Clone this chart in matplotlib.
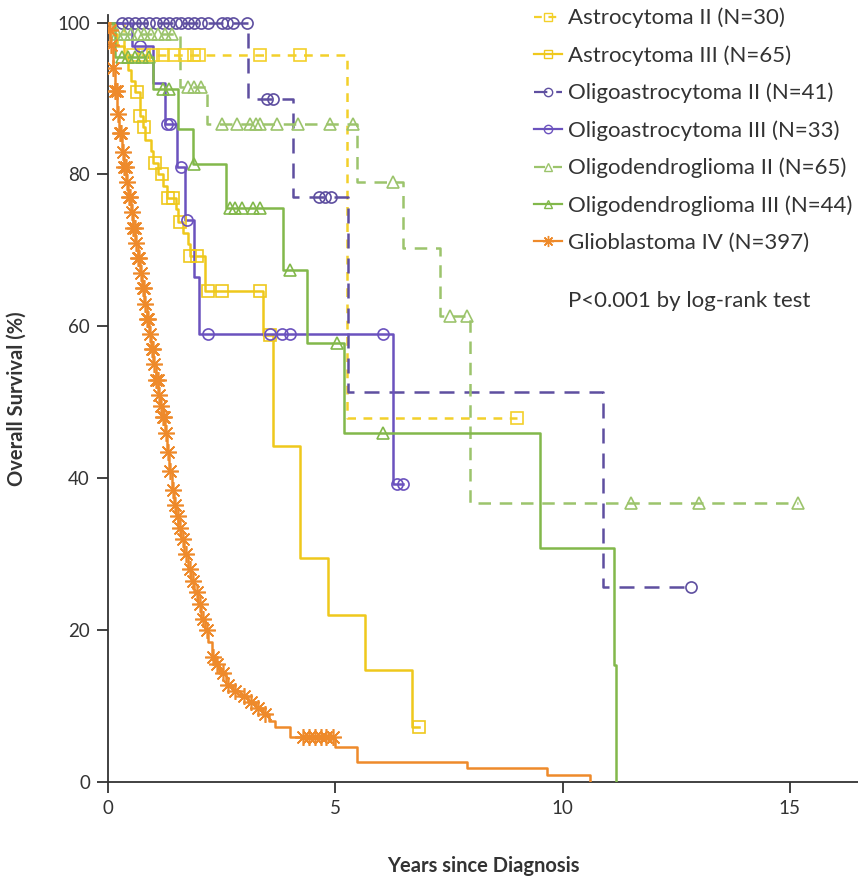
import numpy as np
import matplotlib
matplotlib.use("Agg")
import matplotlib.pyplot as plt
from matplotlib.lines import Line2D

plt.rcParams['font.family'] = ['Lato', 'DejaVu Sans']

# step curves: times where survival changes, survival (%) after the change
astro2_t = [0.35, 5.25]
astro2_s = [95.7, 47.9]
astro2_end = 9.0
astro2_c = [0.55, 0.8, 1.0, 1.2, 1.45, 1.7, 1.9, 2.0, 3.34, 4.22, 9.0]

astro3_t = [0.1, 0.2, 0.35, 0.45, 0.5, 0.6, 0.7, 0.78, 0.82, 0.95, 1.0, 1.1, 1.2,
            1.3, 1.5, 1.55, 1.65, 1.75, 1.8, 2.13, 3.4, 3.63, 4.22, 4.84, 5.65, 6.68]
astro3_s = [98.5, 96.9, 95.4, 93.8, 92.3, 90.8, 87.7, 86.2, 84.6, 83.1, 81.5, 80.0, 78.5,
            76.9, 75.4, 73.8, 72.3, 70.8, 69.2, 64.6, 58.8, 44.3, 29.5, 22.0, 14.7, 7.3]
astro3_end = 6.85
astro3_c = [0.63, 0.7, 0.8, 1.03, 1.19, 1.32, 1.43, 1.58, 1.8, 1.95, 2.2, 2.5, 3.34, 3.56, 6.85]

oligoastro2_t = [3.08, 4.07, 5.27, 10.88]
oligoastro2_s = [90.0, 77.0, 51.3, 25.7]
oligoastro2_end = 12.83
oligoastro2_c = [0.3, 0.45, 0.6, 0.75, 0.9, 1.05, 1.2, 1.35, 1.5, 1.6, 1.75, 1.9, 2.05, 2.2,
                 2.5, 2.62, 2.75, 3.05, 3.5, 3.62, 4.65, 4.78, 4.9, 12.83]

oligoastro3_t = [0.53, 1.0, 1.25, 1.52, 1.7, 1.9, 2.0, 6.26]
oligoastro3_s = [96.9, 92.0, 86.7, 81.0, 74.0, 66.5, 59.0, 39.3]
oligoastro3_end = 6.48
oligoastro3_c = [0.7, 1.3, 1.36, 1.6, 1.73, 2.2, 3.56, 3.82, 4.0, 6.05, 6.35, 6.48]

oligo2_t = [0.1, 1.58, 2.18, 5.47, 6.48, 7.3, 7.96]
oligo2_s = [98.5, 91.5, 86.7, 79.0, 70.3, 61.4, 36.8]
oligo2_end = 15.17
oligo2_c = [0.2, 0.35, 0.5, 0.65, 0.8, 0.95, 1.1, 1.25, 1.4, 1.75, 1.9, 2.05, 2.5, 2.83,
            3.12, 3.25, 3.34, 3.71, 4.18, 4.88, 5.38, 6.26, 7.52, 7.9, 11.5, 13.0, 15.17]

oligo3_t = [0.15, 1.0, 1.54, 1.87, 2.6, 3.85, 4.37, 5.2, 9.5, 11.14, 11.17]
oligo3_s = [95.5, 91.3, 86.0, 81.4, 75.6, 67.4, 57.8, 46.0, 30.8, 15.4, 0.0]
oligo3_end = 11.17
oligo3_c = [0.3, 0.45, 0.6, 0.75, 0.9, 1.2, 1.35, 1.9, 2.68, 2.8, 2.95, 3.2, 3.34, 4.0,
            5.03, 6.05]

gbm_t = [0.02, 0.05, 0.1, 0.15, 0.2, 0.25, 0.3, 0.35, 0.4, 0.45, 0.5, 0.55, 0.6, 0.65,
         0.7, 0.75, 0.8, 0.85, 0.9, 0.95, 1.0, 1.05, 1.1, 1.15, 1.2, 1.25, 1.3, 1.35,
         1.4, 1.45, 1.5, 1.55, 1.6, 1.68, 1.76, 1.83, 1.9, 1.97, 2.05, 2.13, 2.2, 2.28,
         2.35, 2.45, 2.6, 2.75, 2.9, 3.08, 3.25, 3.4, 3.55, 3.67, 4.0, 5.0, 5.47, 7.9,
         9.65, 10.6]
gbm_s = [99, 97, 94, 91, 88, 85.5, 83, 81, 79, 77, 75, 73, 71, 69,
         67, 65, 63, 61, 59, 57, 55, 53, 51, 49.5, 48, 46, 43.5, 41,
         38.5, 36.5, 35, 33.5, 32, 30, 28, 26.5, 25, 23.5, 21.5, 20, 18.5, 16.5,
         15.5, 14.3, 12.8, 12, 11.3, 10.6, 9.8, 9, 8, 7.2, 5.9, 4.6, 2.6, 1.8,
         0.9, 0.0]
gbm_end = 10.6
gbm_c = [0.04, 0.07, 0.12, 0.16, 0.19, 0.22, 0.26, 0.29, 0.32, 0.36, 0.39, 0.42, 0.46,
         0.49, 0.52, 0.56, 0.59, 0.62, 0.66, 0.69, 0.72, 0.76, 0.79, 0.82, 0.86, 0.89,
         0.92, 0.96, 0.99, 1.02, 1.06, 1.09, 1.12, 1.16, 1.2, 1.24, 1.28, 1.33, 1.37,
         1.42, 1.48, 1.53, 1.58, 1.65, 1.72, 1.8, 1.87, 1.95, 2.02, 2.1, 2.18, 2.3,
         2.4, 2.52, 2.65, 2.8, 3.0, 3.15, 3.3, 3.45, 4.3, 4.42, 4.55, 4.68, 4.8, 4.95]

labels = ['Astrocytoma II (N=30)', 'Astrocytoma III (N=65)', 'Oligoastrocytoma II (N=41)',
          'Oligoastrocytoma III (N=33)', 'Oligodendroglioma II (N=65)',
          'Oligodendroglioma III (N=44)', 'Glioblastoma IV (N=397)']

STAR = (8, 2, 0)
series = [
    (astro2_t, astro2_s, astro2_end, astro2_c, '#F3D02A', (0, (3.5, 3)), 's', 8),
    (astro3_t, astro3_s, astro3_end, astro3_c, '#EFC81C', '-', 's', 8),
    (oligoastro2_t, oligoastro2_s, oligoastro2_end, oligoastro2_c, '#5E4FA0', (0, (6, 4)), 'o', 8),
    (oligoastro3_t, oligoastro3_s, oligoastro3_end, oligoastro3_c, '#6B52BE', '-', 'o', 8),
    (oligo2_t, oligo2_s, oligo2_end, oligo2_c, '#9CC46C', (0, (5, 3.5)), '^', 9),
    (oligo3_t, oligo3_s, oligo3_end, oligo3_c, '#82B84B', '-', '^', 9),
    (gbm_t, gbm_s, gbm_end, gbm_c, '#EE8A2B', '-', STAR, 12),
]

fig = plt.figure(figsize=(8.58, 8.82), dpi=100)
ax = fig.add_axes([108 / 858, 100 / 882, 750 / 858, 767 / 882])

handles = []
for (t, s, end, c, col, ls, mk, ms), lab in zip(series, labels):
    xs = np.concatenate([[0], t, [end]])
    ys = np.concatenate([[100], s, [s[-1]]])
    ax.step(xs, ys, where='post', color=col, ls=ls, lw=1.8, zorder=3)
    ct = np.array(c)
    idx = np.searchsorted(xs, ct, side='right') - 1
    cy = ys[idx]
    if mk == STAR:
        ax.plot(ct, cy, ls='none', marker=mk, ms=ms, mec=col, mew=1.2, zorder=4)
    else:
        ax.plot(ct, cy, ls='none', marker=mk, ms=ms, mfc='none', mec=col, mew=1.2, zorder=4)
    handles.append(Line2D([], [], color=col, ls=ls, lw=1.6, marker=mk,
                          ms=8 if mk == STAR else 6,
                          mfc='none' if mk != STAR else col, mec=col, mew=1.0))

ax.set_xlim(0, 16.5)
ax.set_ylim(0, 101)
ax.set_xticks([0, 5, 10, 15])
ax.set_yticks([0, 20, 40, 60, 80, 100])
ax.spines['top'].set_visible(False)
ax.spines['right'].set_visible(False)
for sp in ('left', 'bottom'):
    ax.spines[sp].set_linewidth(1.3)
    ax.spines[sp].set_color('#333333')
ax.tick_params(axis='both', length=8, width=1.3, color='#333333', labelsize=13.5,
               labelcolor='#333333', pad=5)
ax.set_xlabel('Years since Diagnosis', fontsize=14.5, fontweight='bold', color='#333333',
              labelpad=28)
ax.set_ylabel('Overall Survival (%)', fontsize=14.5, fontweight='bold', color='#333333',
              labelpad=22)

leg = ax.legend(handles, labels, loc='upper left', bbox_to_anchor=(0.556, 1.021),
                frameon=False, fontsize=16, handlelength=1.25, handletextpad=0.3,
                labelspacing=0.76, borderaxespad=0)
for txt in leg.get_texts():
    txt.set_color('#333333')

ax.text(0.613, 0.627, 'P<0.001 by log-rank test', transform=ax.transAxes, fontsize=16,
        color='#333333', va='center', ha='left')

fig.savefig('out.png', dpi=100)
